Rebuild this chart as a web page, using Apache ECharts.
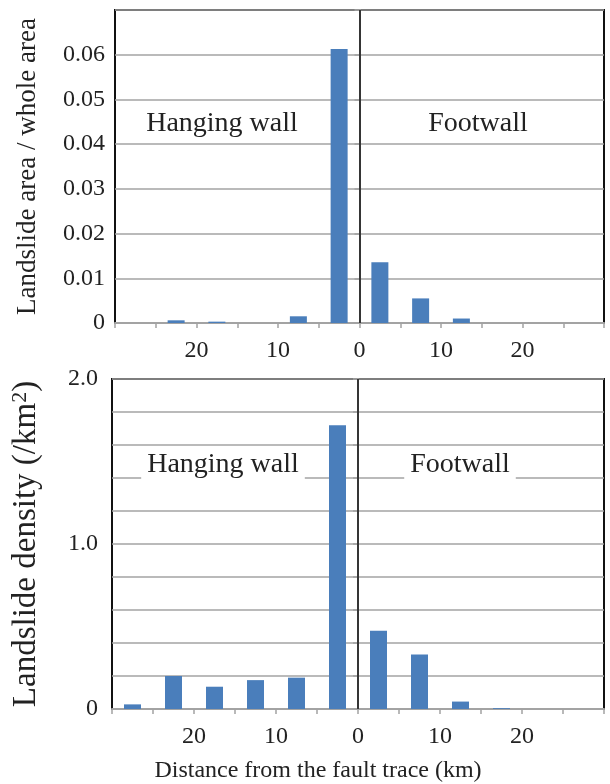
<!DOCTYPE html>
<html>
<head>
<meta charset="utf-8">
<script src="https://cdn.jsdelivr.net/npm/echarts@6/dist/echarts.min.js"></script>
<style>
  html, body { margin: 0; padding: 0; background: #fff; }
  #chart { width: 610px; height: 784px; }
</style>
</head>
<body>
<div id="chart"></div>
<script>
// 5-km distance bins: hanging wall (negative) to footwall (positive), bin centres in km
const binCenters = [-27.5, -22.5, -17.5, -12.5, -7.5, -2.5, 2.5, 7.5, 12.5, 17.5, 22.5, 27.5];
// Landslide area divided by the whole area of each bin
const areaRatio = [0, 0.0006, 0.0003, 0, 0.0015, 0.0613, 0.0136, 0.0055, 0.0010, 0, 0, 0];
// Landslide density (count per km^2) of each bin
const density = [0.028, 0.20, 0.135, 0.175, 0.19, 1.72, 0.474, 0.33, 0.045, 0.005, 0, 0];
// Distance tick labels (distance shown as absolute value on both sides)
const distanceTicks = [-20, -10, 0, 10, 20];
const distanceTickLabels = ['20', '10', '0', '10', '20'];
// Y tick labels
const ratioTicks = [0, 0.01, 0.02, 0.03, 0.04, 0.05, 0.06];
const ratioTickLabels = ['0', '0.01', '0.02', '0.03', '0.04', '0.05', '0.06'];
const densityTicks = [0, 1, 2];
const densityTickLabels = ['0', '1.0', '2.0'];

const FONT = '"Liberation Serif", "DejaVu Serif", serif';
const TEXT = '#222';
const AXIS_GRAY = '#a3a3a3';
const BAR = '#4A7EBB';

function lookupLabel(ticks, labels) {
  return function (v) {
    for (let i = 0; i < ticks.length; i++) {
      if (Math.abs(v - ticks[i]) < 1e-9) return labels[i];
    }
    return '';
  };
}

function xAxisCfg(gridIndex, extra) {
  return Object.assign({
    gridIndex: gridIndex,
    type: 'value',
    min: -30, max: 30, interval: 5,
    axisLine: { show: true, lineStyle: { color: AXIS_GRAY, width: 2 } },
    axisTick: { show: true, inside: false, length: 5, lineStyle: { color: AXIS_GRAY, width: 1.5 } },
    axisLabel: {
      margin: 16, color: TEXT, fontFamily: FONT, fontSize: 24,
      formatter: lookupLabel(distanceTicks, distanceTickLabels)
    },
    splitLine: { show: false }
  }, extra || {});
}

function wallLine() {
  return {
    silent: true, symbol: ['none', 'none'], label: { show: false },
    lineStyle: { color: '#111', width: 1.5, type: 'solid' },
    data: [{ xAxis: 0 }]
  };
}

function wallText(text, x, y, masked) {
  const style = { text: text, font: '28px ' + FONT, fill: TEXT, align: 'center', verticalAlign: 'middle' };
  if (masked) { style.backgroundColor = '#fff'; style.padding = [2, 6, 2, 6]; }
  return { type: 'text', x: x, y: y, z: 10, style: style };
}

const chart = echarts.init(document.getElementById('chart'), null, { renderer: 'canvas' });

chart.setOption({
  animation: false,
  backgroundColor: '#fff',
  grid: [
    { left: 115, top: 10, width: 489, height: 313, show: true, borderColor: '#111', borderWidth: 2, backgroundColor: 'transparent' },
    { left: 112, top: 379, width: 492, height: 334, show: true, borderColor: '#111', borderWidth: 2, backgroundColor: 'transparent' }
  ],
  xAxis: [
    xAxisCfg(0),
    xAxisCfg(1, {
      name: 'Distance from the fault trace (km)',
      nameLocation: 'middle',
      nameGap: 50,
      nameTextStyle: { fontFamily: FONT, fontSize: 24, color: TEXT, padding: [0, 80, 0, 0] }
    })
  ],
  yAxis: [
    {
      gridIndex: 0, type: 'value', min: 0, max: 0.07, interval: 0.01,
      name: 'Landslide area / whole area',
      nameLocation: 'middle', nameGap: 74, nameRotate: 90,
      nameTextStyle: { fontFamily: FONT, fontSize: 27, color: TEXT },
      axisLine: { show: true, lineStyle: { color: AXIS_GRAY, width: 2 } },
      axisTick: { show: true, length: 5, lineStyle: { color: AXIS_GRAY, width: 1.5 } },
      axisLabel: {
        margin: 10, color: TEXT, fontFamily: FONT, fontSize: 24,
        formatter: lookupLabel(ratioTicks, ratioTickLabels)
      },
      splitLine: { show: true, lineStyle: { color: AXIS_GRAY, width: 1.5 } }
    },
    {
      gridIndex: 1, type: 'value', min: 0, max: 2, interval: 0.2,
      name: 'Landslide density (/km{sup|2})',
      nameLocation: 'middle', nameGap: 69, nameRotate: 90,
      nameTextStyle: {
        fontFamily: FONT, fontSize: 33, color: TEXT,
        rich: { sup: { fontFamily: FONT, fontSize: 22, color: TEXT, verticalAlign: 'top', padding: [0, 0, 12, 0] } }
      },
      axisLine: { show: true, lineStyle: { color: AXIS_GRAY, width: 2 } },
      axisTick: { show: true, length: 5, lineStyle: { color: AXIS_GRAY, width: 1.5 } },
      axisLabel: {
        margin: 14, color: TEXT, fontFamily: FONT, fontSize: 24,
        formatter: lookupLabel(densityTicks, densityTickLabels)
      },
      splitLine: { show: true, lineStyle: { color: AXIS_GRAY, width: 1.5 } }
    }
  ],
  series: [
    {
      type: 'bar', xAxisIndex: 0, yAxisIndex: 0, barWidth: 17,
      itemStyle: { color: BAR },
      data: binCenters.map((x, i) => [x, areaRatio[i]]),
      markLine: wallLine()
    },
    {
      type: 'bar', xAxisIndex: 1, yAxisIndex: 1, barWidth: 17,
      itemStyle: { color: BAR },
      data: binCenters.map((x, i) => [x, density[i]]),
      markLine: wallLine()
    }
  ],
  graphic: [
    wallText('Hanging wall', 222, 124, false),
    wallText('Footwall', 478, 124, false),
    wallText('Hanging wall', 223, 465, true),
    wallText('Footwall', 460, 465, true)
  ]
});
</script>
</body>
</html>
